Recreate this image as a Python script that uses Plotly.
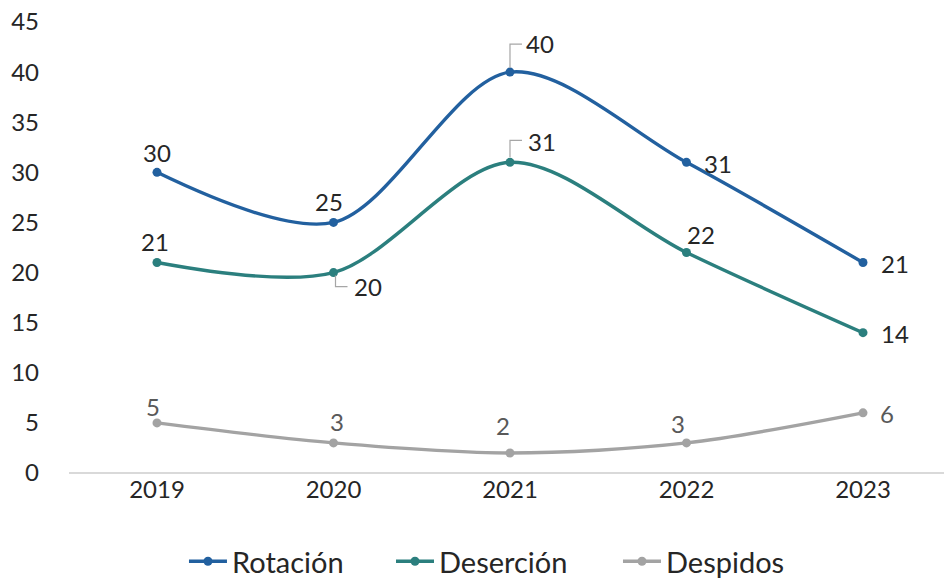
import plotly.graph_objects as go

years = ["2019", "2020", "2021", "2022", "2023"]
rotacion = [30, 25, 40, 31, 21]
desercion = [21, 20, 31, 22, 14]
despidos = [5, 3, 2, 3, 6]
y_ticks = [0, 5, 10, 15, 20, 25, 30, 35, 40, 45]

FONT = "Lato, 'Open Sans', sans-serif"
colors = {"Rotación": "#22609F", "Deserción": "#2B7F7E", "Despidos": "#A3A3A3"}
label_colors = {"Rotación": "#262626", "Deserción": "#262626", "Despidos": "#595959"}

series = [("Rotación", rotacion), ("Deserción", desercion), ("Despidos", despidos)]

# label offsets in pixels (xshift, yshift) per series/point
offsets = {
    "Rotación": [(0, 20), (-5, 21), (30, 29), (32, -1), (32, -1)],
    "Deserción": [(-2, 21), (34, -14), (32, 21), (15, 18), (32, -1)],
    "Despidos": [(-4, 16), (3, 21), (-7, 27), (-8, 19), (24, -1)],
}
# leader lines (series, point index, pixel path)
leaders = [
    ("Rotación", 2, "M0,4 L0,28 L12,28"),
    ("Deserción", 2, "M0,5 L0,22 L12,22"),
    ("Deserción", 1, "M2,-3 L2,-14 L14,-14"),
]
legend_ids = ["legend", "legend2", "legend3"]
legend_x = [0.1314, 0.368, 0.6274]

xs = list(range(len(years)))
fig = go.Figure()
for k, (name, vals) in enumerate(series):
    fig.add_trace(go.Scatter(
        x=xs, y=vals, name=name, mode="lines+markers",
        line=dict(color=colors[name], width=3.4, shape="spline", smoothing=0.9),
        marker=dict(color=colors[name], size=9),
        legend=legend_ids[k],
    ))

annotations = []
for name, vals in series:
    for i, v in enumerate(vals):
        dx, dy = offsets[name][i]
        annotations.append(dict(
            x=xs[i], y=v, xref="x", yref="y", text=str(v), showarrow=False,
            xshift=dx, yshift=dy,
            font=dict(family=FONT, size=24, color=label_colors[name]),
        ))

shapes = []
vals_by = dict(series)
for name, i, path in leaders:
    shapes.append(dict(
        type="path", xref="x", yref="y", xsizemode="pixel", ysizemode="pixel",
        xanchor=xs[i], yanchor=vals_by[name][i], path=path,
        line=dict(color="#A6A6A6", width=1.2),
    ))

legend_common = dict(orientation="h", xanchor="left", y=-0.196, yanchor="middle",
                     font=dict(family=FONT, size=29, color="#262626"),
                     itemwidth=38, bgcolor="rgba(0,0,0,0)")

fig.update_layout(
    width=944, height=581,
    margin=dict(l=69, r=0, t=22, b=108, autoexpand=False),
    paper_bgcolor="white", plot_bgcolor="white",
    font=dict(family=FONT, size=24, color="#262626"),
    showlegend=True,
    legend=dict(x=legend_x[0], **legend_common),
    legend2=dict(x=legend_x[1], **legend_common),
    legend3=dict(x=legend_x[2], **legend_common),
    annotations=annotations,
    shapes=shapes,
    xaxis=dict(
        range=[-0.4986, 4.459], tickvals=xs, ticktext=years,
        showgrid=False, zeroline=False, showline=False, ticks="",
        tickfont=dict(family=FONT, size=24, color="#262626"),
        automargin=False, fixedrange=True,
    ),
    yaxis=dict(
        range=[0, 45], tickvals=y_ticks, showgrid=False,
        zeroline=True, zerolinecolor="#D9D9D9", zerolinewidth=1.5,
        showline=False, ticks="", ticklabelstandoff=29,
        ticklabeloverflow="allow",
        tickfont=dict(family=FONT, size=24, color="#262626"),
        automargin=False, fixedrange=True,
    ),
)

fig.write_html("out.html", config={"displayModeBar": False},
               post_script="document.body.style.margin='0';")
